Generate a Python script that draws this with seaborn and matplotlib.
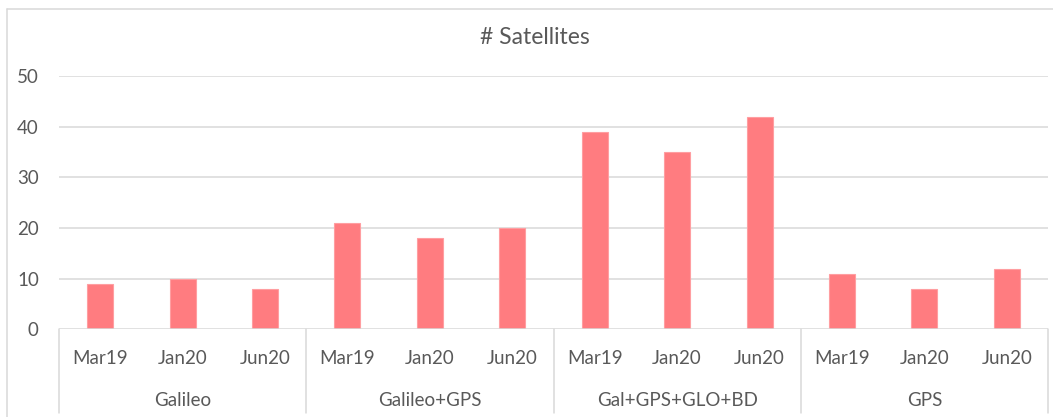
import matplotlib
matplotlib.use("Agg")
import matplotlib.pyplot as plt
from matplotlib.lines import Line2D
import matplotlib.transforms as mtransforms
import seaborn as sns
import pandas as pd

# ---- data ----
groups = ["Galileo", "Galileo+GPS", "Gal+GPS+GLO+BD", "GPS"]
periods = ["Mar19", "Jan20", "Jun20"]
galileo = [9, 10, 8]
galileo_gps = [21, 18, 20]
gal_gps_glo_bd = [39, 35, 42]
gps = [11, 8, 12]
y_ticks = [0, 10, 20, 30, 40, 50]
title = "# Satellites"

series = [galileo, galileo_gps, gal_gps_glo_bd, gps]
rows = []
for g, vals in zip(groups, series):
    for p, v in zip(periods, vals):
        rows.append({"group": g, "period": p, "key": f"{g}|{p}", "value": v})
df = pd.DataFrame(rows)

sns.set_theme(style="white")
plt.rcParams["font.family"] = ["Lato", "DejaVu Sans"]

TXT = "#595959"
GRID = "#D9D9D9"
BAR = "#FF7C80"

W, H = 1053, 417
fig = plt.figure(figsize=(W / 100, H / 100), dpi=100)
ax_left, ax_right = 59 / W, 1048 / W
ax_bottom = (H - 329.3) / H
ax_top = (H - 76) / H
ax = fig.add_axes([ax_left, ax_bottom, ax_right - ax_left, ax_top - ax_bottom])

sns.barplot(data=df, x="key", y="value", order=list(df["key"]), color=BAR,
            width=0.315, edgecolor="#FF9EA1", linewidth=0.8, ax=ax, saturation=1)

ax.set_xlim(-0.5, len(df) - 0.5)
ax.set_ylim(0, 50)
ax.set_yticks(y_ticks)
ax.set_yticklabels([str(t) for t in y_ticks])
ax.tick_params(axis="y", length=0, pad=14.5, labelsize=13.5, labelcolor=TXT)
ax.set_xticks([])
ax.set_xlabel("")
ax.set_ylabel("")
for s in ax.spines.values():
    s.set_visible(False)
for t in y_ticks[1:]:
    ax.axhline(t, color=GRID, lw=1.1, zorder=0)
ax.axhline(0, color=GRID, lw=1.1, zorder=3)

trans = mtransforms.blended_transform_factory(ax.transData, ax.transAxes)
axh = 329.3 - 76
for i, p in enumerate(list(df["period"])):
    ax.text(i, -28.7 / axh, p, transform=trans, ha="center", va="center",
            fontsize=13.5, color=TXT)
for gi, g in enumerate(groups):
    ax.text(gi * 3 + 1, -71 / axh, g, transform=trans, ha="center", va="center",
            fontsize=13.5, color=TXT)
for b in [-0.5, 2.5, 5.5, 8.5, 11.5]:
    ax.add_line(Line2D([b, b], [0, -84 / axh], transform=trans, color=GRID,
                       lw=1.1, clip_on=False))

# chart border (top and left visible)
fig.add_artist(Line2D([6.5 / W, 1.0], [1 - 9.3 / H, 1 - 9.3 / H],
                      transform=fig.transFigure, color=GRID, lw=1.1))
fig.add_artist(Line2D([6.5 / W, 6.5 / W], [0, 1 - 9.3 / H],
                      transform=fig.transFigure, color=GRID, lw=1.1))

fig.text(535 / W, 1 - 38 / H, title, ha="center", va="center",
         fontsize=16.5, color=TXT)

fig.savefig("out.png", dpi=100)
